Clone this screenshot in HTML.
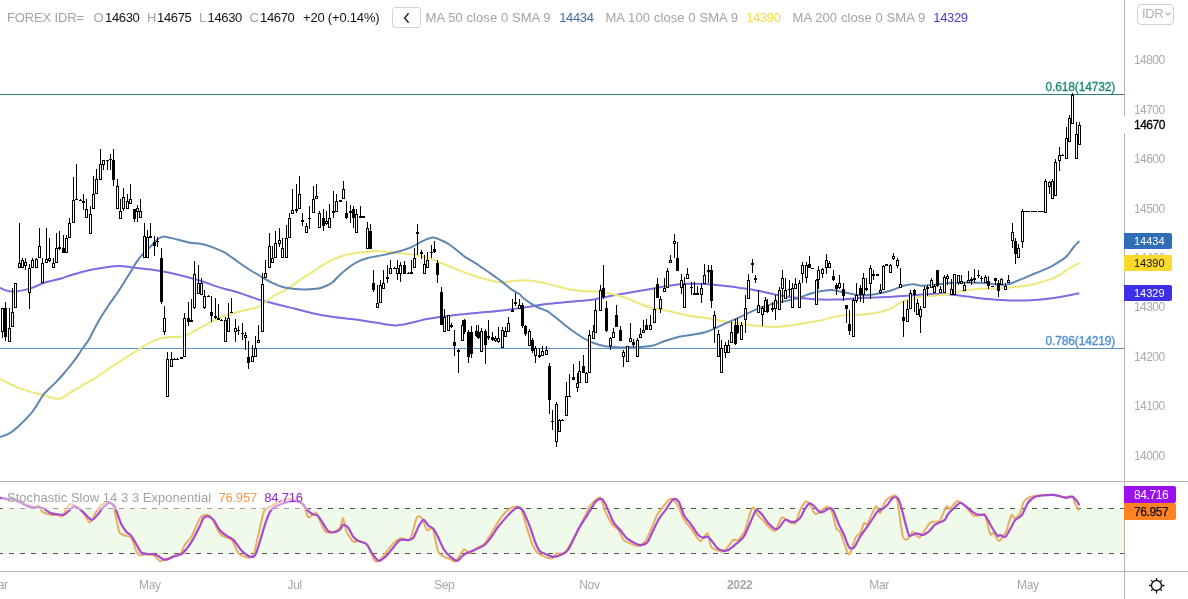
<!DOCTYPE html>
<html><head><meta charset="utf-8"><style>
html,body{margin:0;padding:0;background:#fff;}
body{width:1188px;height:599px;position:relative;overflow:hidden;font-family:"Liberation Sans",Arial,sans-serif;}
.lab{position:absolute;left:1124px;width:48px;height:16px;border-radius:0 2px 2px 0;font:11px "Liberation Sans",Arial,sans-serif;line-height:17px;text-indent:10px;letter-spacing:0px}
</style></head><body>

<svg width="1188" height="599" viewBox="0 0 1188 599" style="position:absolute;left:0;top:0">
<rect x="0" y="508" width="1124" height="46" fill="#f0faea"/>
<path d="M0,508.5H1124M0,553.5H1124" stroke="#555" stroke-width="1" stroke-dasharray="5 6" stroke-dashoffset="2" fill="none"/>
<path d="M0,94.5H1124" stroke="#2f7d78" stroke-width="1"/>
<path d="M0,348.5H1124" stroke="#5a95cf" stroke-width="1"/>
<path d="M0.0,288.0C2.0,288.6 7.0,291.5 12.0,291.6C17.0,291.7 24.5,290.1 30.0,288.6C35.5,287.1 40.0,284.1 45.0,282.5C50.0,280.9 55.8,280.0 60.0,278.8C64.2,277.6 65.4,276.9 70.0,275.5C74.6,274.1 81.9,271.7 87.7,270.4C93.5,269.1 99.8,268.2 105.0,267.5C110.2,266.8 114.3,266.0 119.0,266.0C123.7,266.0 127.7,266.9 133.0,267.5C138.3,268.1 145.1,268.8 151.0,269.6C156.9,270.4 162.6,271.3 168.4,272.5C174.2,273.7 180.4,275.2 186.0,276.7C191.6,278.1 197.1,279.8 201.7,281.2C206.3,282.6 209.5,284.1 213.4,285.4C217.3,286.7 221.1,287.9 225.0,289.0C228.9,290.1 232.8,290.8 236.7,292.0C240.6,293.2 244.5,294.7 248.4,296.0C252.3,297.3 256.1,298.8 260.0,300.0C263.9,301.2 267.9,302.0 271.8,303.0C275.7,304.0 279.6,305.0 283.5,306.0C287.4,307.0 291.1,307.8 295.0,308.8C298.9,309.8 302.9,310.8 306.8,311.8C310.7,312.8 314.6,313.8 318.5,314.6C322.4,315.4 326.3,315.9 330.2,316.5C334.1,317.1 338.0,317.6 341.9,318.1C345.8,318.6 349.7,318.8 353.6,319.3C357.5,319.8 361.3,320.4 365.2,321.0C369.1,321.6 373.1,322.2 377.0,322.8C380.9,323.4 385.5,324.3 388.6,324.7C391.7,325.1 392.9,325.5 395.6,325.4C398.3,325.3 401.5,324.8 405.0,324.2C408.5,323.6 412.7,322.4 416.6,321.5C420.5,320.6 422.2,319.8 428.3,318.8C434.4,317.8 445.3,316.3 453.4,315.3C461.5,314.3 468.9,313.8 476.7,313.0C484.5,312.2 492.2,311.6 500.0,310.7C507.8,309.8 515.7,308.7 523.5,307.6C531.3,306.5 539.0,305.0 546.8,304.0C554.6,303.0 562.4,302.6 570.2,301.8C578.0,301.0 585.8,300.6 593.6,299.4C601.4,298.2 609.2,296.2 617.0,294.8C624.8,293.4 632.5,292.2 640.3,290.8C648.1,289.4 656.7,287.8 663.6,286.6C670.5,285.5 676.7,284.4 681.7,283.9C686.7,283.4 689.5,283.7 693.4,283.7C697.3,283.7 701.1,283.8 705.0,284.0C708.9,284.2 712.8,284.5 716.7,284.9C720.6,285.3 724.5,285.8 728.4,286.3C732.3,286.8 736.1,287.4 740.0,287.9C743.9,288.4 747.9,288.8 751.8,289.5C755.7,290.2 759.6,291.1 763.5,291.9C767.4,292.7 771.1,293.7 775.0,294.5C778.9,295.3 782.9,295.9 786.8,296.5C790.7,297.1 794.6,297.6 798.5,298.0C802.4,298.4 806.3,298.6 810.2,298.9C814.1,299.2 818.0,299.5 821.9,299.6C825.8,299.7 829.7,299.7 833.6,299.6C837.5,299.5 841.3,299.3 845.2,299.1C849.1,298.9 853.1,298.4 857.0,298.2C860.9,298.0 864.7,297.9 868.6,297.7C872.5,297.5 876.4,297.3 880.3,297.2C884.2,297.1 888.1,297.0 892.0,296.8C895.9,296.6 899.5,296.4 903.6,296.1C907.7,295.8 911.8,295.4 916.8,295.0C921.8,294.6 928.1,294.1 933.7,294.0C939.3,293.9 944.9,294.0 950.5,294.4C956.1,294.8 961.7,295.9 967.3,296.6C972.9,297.3 978.6,298.2 984.2,298.8C989.8,299.4 995.4,299.7 1001.0,300.0C1006.6,300.3 1012.2,300.5 1017.8,300.5C1023.4,300.5 1029.1,300.4 1034.7,300.0C1040.3,299.6 1045.9,299.1 1051.5,298.3C1057.1,297.5 1063.8,296.2 1068.4,295.4C1073.0,294.5 1077.5,293.6 1079.3,293.2" stroke="#7b6de2" stroke-width="2" fill="none"/>
<path d="M0.0,378.6C1.5,379.4 6.0,382.0 9.0,383.5C12.0,385.0 14.5,386.2 18.0,387.6C21.5,389.0 25.8,390.3 30.0,391.6C34.2,392.9 40.1,394.4 43.4,395.4C46.7,396.4 47.8,396.8 50.0,397.4C52.2,397.9 54.7,398.6 56.7,398.7C58.7,398.8 59.8,399.0 62.0,398.0C64.2,397.0 67.1,394.5 70.0,392.7C72.9,390.9 76.9,388.9 79.4,387.4C81.9,385.9 82.1,385.4 85.0,383.7C87.9,382.0 92.8,379.6 96.7,377.2C100.6,374.8 104.5,371.6 108.4,369.0C112.3,366.4 116.1,364.0 120.0,361.5C123.9,359.0 127.8,356.4 131.7,353.9C135.6,351.4 139.5,348.6 143.4,346.3C147.3,344.1 151.1,341.9 155.0,340.4C158.9,338.9 162.9,337.9 166.8,337.3C170.7,336.7 175.0,337.4 178.5,337.0C182.0,336.6 184.9,335.8 187.8,334.6C190.7,333.4 193.1,331.6 196.0,330.0C198.9,328.4 202.1,326.9 205.0,325.3C207.9,323.7 210.1,322.1 213.4,320.5C216.7,318.9 221.1,317.2 225.0,315.8C228.9,314.4 232.8,313.4 236.7,312.3C240.6,311.2 244.5,310.4 248.4,309.3C252.3,308.2 255.8,308.2 260.0,306.0C264.2,303.8 268.9,298.8 273.4,296.0C277.8,293.2 282.3,292.1 286.7,289.4C291.1,286.7 295.6,283.0 300.0,280.0C304.4,277.0 308.9,274.3 313.4,271.4C317.9,268.5 322.4,265.1 326.8,262.7C331.2,260.2 335.6,258.2 340.0,256.7C344.4,255.1 349.3,254.2 353.5,253.4C357.7,252.6 361.3,252.4 365.2,252.0C369.1,251.6 373.1,251.0 377.0,251.0C380.9,251.0 384.7,251.6 388.6,252.0C392.5,252.4 396.4,252.8 400.3,253.2C404.2,253.6 408.1,254.0 412.0,254.6C415.9,255.2 420.6,256.3 423.6,257.0C426.6,257.7 427.0,257.6 430.0,258.6C433.0,259.6 437.8,261.6 441.7,263.2C445.6,264.8 449.5,266.4 453.4,268.0C457.3,269.6 461.1,271.2 465.0,272.6C468.9,274.0 472.8,275.3 476.7,276.5C480.6,277.7 484.5,279.1 488.4,280.0C492.3,280.9 496.1,282.0 500.0,282.2C503.9,282.4 507.9,281.5 511.8,281.2C515.7,280.9 519.6,280.3 523.5,280.3C527.4,280.3 531.1,280.6 535.0,281.2C538.9,281.8 542.9,282.7 546.8,283.6C550.7,284.5 554.6,285.6 558.5,286.6C562.4,287.6 566.3,288.9 570.2,289.6C574.1,290.4 578.0,290.8 581.9,291.1C585.8,291.4 589.7,291.2 593.6,291.4C597.5,291.6 601.3,291.8 605.2,292.4C609.1,293.0 613.1,294.1 617.0,295.2C620.9,296.3 624.7,297.5 628.6,299.0C632.5,300.5 636.4,302.5 640.3,304.0C644.2,305.5 648.1,307.0 652.0,308.0C655.9,309.0 660.6,309.4 663.6,310.0C666.6,310.6 667.0,310.6 670.0,311.3C673.0,312.0 677.8,313.4 681.7,314.3C685.6,315.2 689.5,316.0 693.4,316.6C697.3,317.2 701.1,317.2 705.0,317.8C708.9,318.4 712.8,319.2 716.7,319.9C720.6,320.6 724.5,321.6 728.4,322.2C732.3,322.8 736.1,323.1 740.0,323.6C743.9,324.1 747.9,324.8 751.8,325.3C755.7,325.8 759.6,326.1 763.5,326.4C767.4,326.7 771.1,327.0 775.0,326.9C778.9,326.8 782.9,326.5 786.8,326.0C790.7,325.5 794.6,324.7 798.5,324.1C802.4,323.5 806.3,322.9 810.2,322.2C814.1,321.5 818.0,321.0 821.9,320.1C825.8,319.2 829.7,318.0 833.6,317.1C837.5,316.2 841.3,315.4 845.2,315.0C849.1,314.6 853.1,315.0 857.0,314.8C860.9,314.6 864.7,314.5 868.6,314.0C872.5,313.5 876.4,313.0 880.3,312.0C884.2,311.0 888.7,309.3 892.0,307.8C895.3,306.3 895.9,304.7 900.0,303.0C904.1,301.3 911.2,298.6 916.8,297.4C922.4,296.2 928.1,296.4 933.7,295.8C939.3,295.2 946.3,294.7 950.5,294.0C954.7,293.3 956.2,292.2 959.0,291.5C961.8,290.8 963.1,290.4 967.3,289.9C971.5,289.4 978.6,289.0 984.2,288.7C989.8,288.4 995.4,288.5 1001.0,288.2C1006.6,287.9 1012.2,287.5 1017.8,286.8C1023.4,286.1 1029.1,285.3 1034.7,284.0C1040.3,282.7 1047.3,280.4 1051.5,278.9C1055.7,277.3 1057.2,276.4 1060.0,274.7C1062.8,273.0 1065.2,270.8 1068.4,268.8C1071.6,266.8 1077.5,263.9 1079.3,262.9" stroke="#eee77a" stroke-width="2" fill="none"/>
<path d="M0.0,437.0C1.5,436.4 6.0,435.3 9.0,433.6C12.0,431.9 14.5,429.9 18.0,426.7C21.5,423.5 26.9,418.2 30.0,414.7C33.1,411.1 34.5,408.7 36.7,405.4C38.9,402.1 41.2,397.6 43.4,394.7C45.6,391.8 47.8,390.2 50.0,388.0C52.2,385.8 54.5,383.7 56.7,381.4C58.9,379.1 61.2,376.6 63.4,374.0C65.6,371.4 67.8,368.8 70.0,366.0C72.2,363.2 74.6,360.3 76.7,357.4C78.8,354.5 80.5,351.4 82.5,348.5C84.5,345.6 86.8,343.1 88.7,340.0C90.6,336.9 91.8,333.7 93.8,330.0C95.8,326.3 98.2,321.8 100.7,317.6C103.2,313.4 106.0,309.2 108.8,305.0C111.6,300.8 114.8,296.6 117.6,292.5C120.4,288.4 123.2,283.8 125.4,280.3C127.6,276.8 129.0,274.6 130.8,271.6C132.6,268.6 134.5,265.1 136.3,262.4C138.1,259.7 139.7,257.6 141.7,255.4C143.7,253.2 146.4,250.7 148.2,248.9C150.0,247.1 150.9,246.2 152.5,244.5C154.1,242.8 156.2,240.3 158.0,239.0C159.8,237.7 161.6,236.7 163.4,236.4C165.2,236.2 166.0,236.9 168.8,237.5C171.6,238.1 176.5,239.3 180.0,240.2C183.5,241.1 186.4,242.1 190.0,242.7C193.6,243.3 197.8,243.2 201.7,244.0C205.6,244.8 209.5,246.2 213.4,247.6C217.3,249.0 221.1,250.5 225.0,252.7C228.9,254.9 232.8,258.3 236.7,261.0C240.6,263.7 244.5,266.5 248.4,269.0C252.3,271.5 256.1,273.7 260.0,276.0C263.9,278.3 267.9,280.7 271.8,282.6C275.7,284.5 279.6,286.2 283.5,287.3C287.4,288.4 291.1,288.6 295.0,289.0C298.9,289.4 302.9,289.5 306.8,289.4C310.7,289.3 315.6,288.9 318.5,288.5C321.4,288.1 321.8,287.7 324.0,286.7C326.2,285.7 329.3,284.7 332.0,282.7C334.7,280.7 336.9,277.5 340.0,274.7C343.1,271.9 347.5,268.3 350.8,266.0C354.1,263.7 357.1,262.0 360.0,260.7C362.9,259.4 365.2,258.8 368.0,258.0C370.8,257.2 373.6,256.9 377.0,256.2C380.4,255.5 384.7,254.8 388.6,253.9C392.5,253.0 396.4,252.2 400.3,251.0C404.2,249.8 408.1,248.6 412.0,246.9C415.9,245.2 420.1,242.2 423.6,240.6C427.1,239.0 430.0,237.5 433.0,237.5C436.0,237.5 439.3,239.5 441.7,240.5C444.1,241.5 445.6,242.2 447.5,243.4C449.4,244.6 451.4,246.0 453.4,247.5C455.3,249.0 457.3,250.6 459.2,252.2C461.1,253.8 463.1,255.5 465.0,256.9C466.9,258.3 468.9,259.2 470.9,260.4C472.8,261.6 474.8,262.6 476.7,263.9C478.6,265.2 480.7,266.6 482.6,268.0C484.6,269.4 486.4,270.6 488.4,272.0C490.3,273.4 492.4,274.7 494.3,276.1C496.2,277.5 498.1,278.7 500.0,280.2C501.9,281.7 504.0,283.4 506.0,285.0C508.0,286.6 509.5,288.0 511.8,289.6C514.1,291.2 518.0,293.1 520.0,294.5C522.0,295.9 521.0,296.4 523.5,298.3C526.0,300.2 531.1,303.9 535.0,306.0C538.9,308.1 544.3,309.8 546.8,311.0C549.3,312.2 547.5,311.1 550.0,313.0C552.5,314.9 557.9,319.4 561.8,322.5C565.7,325.6 569.5,328.8 573.4,331.5C577.3,334.2 581.6,337.1 585.0,339.0C588.4,340.9 590.2,341.8 593.6,343.0C597.0,344.2 601.3,345.5 605.2,346.2C609.1,346.9 613.1,347.1 617.0,347.3C620.9,347.5 624.7,347.4 628.6,347.3C632.5,347.2 636.4,347.2 640.3,346.9C644.2,346.6 648.1,346.6 652.0,345.7C655.9,344.8 660.1,342.7 663.6,341.5C667.1,340.3 670.0,339.4 673.0,338.5C676.0,337.6 678.3,336.9 681.7,336.3C685.1,335.7 689.5,335.3 693.4,334.6C697.3,333.9 701.1,333.5 705.0,332.3C708.9,331.1 712.8,329.3 716.7,327.6C720.6,325.9 724.5,323.9 728.4,322.2C732.3,320.4 736.1,318.9 740.0,317.1C743.9,315.3 747.9,313.1 751.8,311.3C755.7,309.6 759.6,308.0 763.5,306.6C767.4,305.2 771.1,304.1 775.0,303.1C778.9,302.1 782.9,301.6 786.8,300.7C790.7,299.8 794.6,299.2 798.5,298.0C802.4,296.8 806.3,294.9 810.2,293.7C814.1,292.5 818.0,291.6 821.9,291.0C825.8,290.4 829.7,289.9 833.6,290.2C837.5,290.5 841.3,291.8 845.2,292.6C849.1,293.4 853.1,294.5 857.0,294.9C860.9,295.3 864.7,295.2 868.6,294.9C872.5,294.6 876.4,294.1 880.3,293.3C884.2,292.5 888.1,291.4 892.0,290.2C895.9,288.9 900.0,286.8 903.6,285.8C907.2,284.8 910.5,284.3 913.5,284.3C916.5,284.3 918.5,285.6 921.9,285.7C925.3,285.8 928.9,285.2 933.7,284.8C938.5,284.4 944.9,283.5 950.5,283.1C956.1,282.7 961.7,282.6 967.3,282.6C972.9,282.6 978.6,282.7 984.2,283.1C989.8,283.5 996.8,284.7 1001.0,284.8C1005.2,284.9 1006.6,284.7 1009.4,284.0C1012.2,283.3 1015.0,281.7 1017.8,280.6C1020.6,279.5 1023.5,278.4 1026.3,277.2C1029.1,276.0 1031.9,274.7 1034.7,273.5C1037.5,272.3 1040.3,271.4 1043.1,270.2C1045.9,269.0 1048.7,267.8 1051.5,266.3C1054.3,264.8 1057.5,262.9 1060.0,261.2C1062.5,259.5 1064.5,258.5 1066.7,256.2C1068.9,253.9 1071.3,250.0 1073.4,247.5C1075.5,245.0 1078.3,242.1 1079.3,241.0" stroke="#5d86b2" stroke-width="2" fill="none"/>
<g shape-rendering="crispEdges"><path d="M2,308h1v30h-1zM1,308h3v24h-3zM5,302h1v39h-1zM4,308h3v29h-3zM9,308h1v34h-1zM8,328h3v14h-3zM12,288h1v39h-1zM11,312h3v15h-3zM15,283h1v25h-1zM14,283h3v25h-3zM19,223h1v45h-1zM18,263h3v5h-3zM22,258h1v10h-1zM21,260h3v8h-3zM25,258h1v12h-1zM24,262h3v4h-3zM29,264h1v45h-1zM28,268h3v25h-3zM32,258h1v10h-1zM31,260h3v8h-3zM36,258h1v10h-1zM35,259h3v9h-3zM39,228h1v30h-1zM38,246h3v12h-3zM42,258h1v25h-1zM41,263h3v20h-3zM46,228h1v35h-1zM45,259h3v4h-3zM49,238h1v24h-1zM48,258h3v3h-3zM53,258h1v10h-1zM52,263h3v5h-3zM56,233h1v30h-1zM55,248h3v15h-3zM59,231h1v19h-1zM58,247h3v2h-3zM63,235h1v18h-1zM62,248h3v5h-3zM66,235h1v18h-1zM65,238h3v15h-3zM69,218h1v20h-1zM68,223h3v15h-3zM73,177h1v46h-1zM72,200h3v23h-3zM76,164h1v36h-1zM75,199h3v1h-3zM80,199h1v2h-1zM79,200h3v1h-3zM83,194h1v16h-1zM82,201h3v2h-3zM86,199h1v19h-1zM85,209h3v9h-3zM90,206h1v28h-1zM89,214h3v20h-3zM93,176h1v33h-1zM92,194h3v15h-3zM96,169h1v25h-1zM95,179h3v15h-3zM100,149h1v31h-1zM99,164h3v16h-3zM103,160h1v10h-1zM102,160h3v5h-3zM107,160h1v10h-1zM106,160h3v1h-3zM110,154h1v16h-1zM109,159h3v1h-3zM113,149h1v37h-1zM112,160h3v20h-3zM117,179h1v30h-1zM116,186h3v23h-3zM120,199h1v20h-1zM119,211h3v8h-3zM123,188h1v23h-1zM122,197h3v12h-3zM127,194h1v15h-1zM126,201h3v8h-3zM130,184h1v20h-1zM129,199h3v5h-3zM134,209h1v13h-1zM133,209h3v10h-3zM137,205h1v17h-1zM136,208h3v4h-3zM140,199h1v19h-1zM139,211h3v7h-3zM144,223h1v35h-1zM143,236h3v22h-3zM147,230h1v28h-1zM146,237h3v21h-3zM150,223h1v15h-1zM149,236h3v2h-3zM154,236h1v20h-1zM153,242h3v4h-3zM157,237h1v10h-1zM156,241h3v1h-3zM161,248h1v56h-1zM160,258h3v44h-3zM164,306h1v29h-1zM163,318h3v14h-3zM167,352h1v45h-1zM166,359h3v38h-3zM171,352h1v15h-1zM170,359h3v8h-3zM174,358h1v2h-1zM173,359h3v1h-3zM177,358h1v2h-1zM176,359h3v1h-3zM181,357h1v2h-1zM180,357h3v2h-3zM184,313h1v44h-1zM183,318h3v39h-3zM188,302h1v24h-1zM187,318h3v4h-3zM191,299h1v23h-1zM190,320h3v2h-3zM194,261h1v48h-1zM193,274h3v34h-3zM198,265h1v29h-1zM197,283h3v11h-3zM201,278h1v17h-1zM200,283h3v12h-3zM204,290h1v19h-1zM203,296h3v12h-3zM208,295h1v2h-1zM207,296h3v1h-3zM211,296h1v26h-1zM210,312h3v4h-3zM215,298h1v21h-1zM214,316h3v2h-3zM218,304h1v16h-1zM217,318h3v2h-3zM221,319h1v2h-1zM220,320h3v1h-3zM225,317h1v25h-1zM224,320h3v22h-3zM228,303h1v29h-1zM227,318h3v14h-3zM231,298h1v15h-1zM230,312h3v1h-3zM235,319h1v23h-1zM234,328h3v4h-3zM238,326h1v9h-1zM237,330h3v1h-3zM242,323h1v17h-1zM241,333h3v1h-3zM245,332h1v18h-1zM244,335h3v3h-3zM248,341h1v28h-1zM247,357h3v6h-3zM252,345h1v17h-1zM251,356h3v6h-3zM255,336h1v21h-1zM254,348h3v9h-3zM258,325h1v18h-1zM257,340h3v3h-3zM262,273h1v59h-1zM261,284h3v48h-3zM265,260h1v18h-1zM264,273h3v5h-3zM269,233h1v35h-1zM268,246h3v22h-3zM272,246h1v17h-1zM271,258h3v5h-3zM275,231h1v27h-1zM274,243h3v15h-3zM279,228h1v19h-1zM278,240h3v4h-3zM282,238h1v20h-1zM281,248h3v10h-3zM286,225h1v33h-1zM285,238h3v20h-3zM289,213h1v25h-1zM288,218h3v20h-3zM292,189h1v25h-1zM291,210h3v4h-3zM296,184h1v29h-1zM295,209h3v2h-3zM299,176h1v33h-1zM298,194h3v15h-3zM302,213h1v13h-1zM301,220h3v2h-3zM306,223h1v10h-1zM305,226h3v7h-3zM309,206h1v23h-1zM308,218h3v1h-3zM313,186h1v27h-1zM312,199h3v14h-3zM316,184h1v15h-1zM315,196h3v3h-3zM319,211h1v17h-1zM318,213h3v15h-3zM323,209h1v22h-1zM322,218h3v8h-3zM326,211h1v14h-1zM325,221h3v3h-3zM329,204h1v24h-1zM328,218h3v10h-3zM333,191h1v27h-1zM332,211h3v2h-3zM336,194h1v18h-1zM335,201h3v11h-3zM340,200h1v2h-1zM339,200h3v2h-3zM343,181h1v18h-1zM342,189h3v10h-3zM346,201h1v18h-1zM345,213h3v5h-3zM350,205h1v18h-1zM349,211h3v2h-3zM353,206h1v22h-1zM352,209h3v9h-3zM356,209h1v24h-1zM355,214h3v19h-3zM360,206h1v12h-1zM359,216h3v2h-3zM363,216h1v2h-1zM362,216h3v2h-3zM367,222h1v27h-1zM366,228h3v21h-3zM370,224h1v25h-1zM369,231h3v18h-3zM373,270h1v22h-1zM372,283h3v7h-3zM377,285h1v23h-1zM376,303h3v5h-3zM380,280h1v23h-1zM379,285h3v18h-3zM383,270h1v19h-1zM382,283h3v6h-3zM387,265h1v18h-1zM386,277h3v2h-3zM390,260h1v14h-1zM389,268h3v6h-3zM394,267h1v2h-1zM393,268h3v1h-3zM397,260h1v20h-1zM396,268h3v6h-3zM400,262h1v20h-1zM399,265h3v9h-3zM404,261h1v13h-1zM403,265h3v9h-3zM408,272h1v2h-1zM407,273h3v1h-3zM411,260h1v14h-1zM410,272h3v2h-3zM414,248h1v20h-1zM413,258h3v10h-3zM417,224h1v31h-1zM416,232h3v2h-3zM421,250h1v9h-1zM420,252h3v2h-3zM424,255h1v19h-1zM423,264h3v10h-3zM427,252h1v16h-1zM426,260h3v8h-3zM431,245h1v13h-1zM430,252h3v1h-3zM434,241h1v12h-1zM433,249h3v3h-3zM437,260h1v23h-1zM436,263h3v12h-3zM441,287h1v38h-1zM440,292h3v33h-3zM444,309h1v23h-1zM443,317h3v15h-3zM448,315h1v16h-1zM447,315h3v16h-3zM451,323h1v5h-1zM450,325h3v2h-3zM454,330h1v26h-1zM453,342h3v4h-3zM458,349h1v24h-1zM457,350h3v2h-3zM462,320h1v21h-1zM461,325h3v16h-3zM464,319h1v15h-1zM463,320h3v12h-3zM468,330h1v33h-1zM467,332h3v25h-3zM471,326h1v32h-1zM470,332h3v22h-3zM476,325h1v12h-1zM475,331h3v5h-3zM478,325h1v14h-1zM477,332h3v6h-3zM481,328h1v24h-1zM480,331h3v21h-3zM485,329h1v35h-1zM484,331h3v14h-3zM488,320h1v20h-1zM487,336h3v2h-3zM492,332h1v9h-1zM491,337h3v3h-3zM495,336h1v6h-1zM494,338h3v3h-3zM498,327h1v16h-1zM497,338h3v4h-3zM502,327h1v21h-1zM501,330h3v18h-3zM505,327h1v10h-1zM504,331h3v6h-3zM508,317h1v15h-1zM507,323h3v9h-3zM512,299h1v13h-1zM511,310h3v2h-3zM515,293h1v13h-1zM514,302h3v2h-3zM519,299h1v10h-1zM518,305h3v4h-3zM522,303h1v25h-1zM521,305h3v21h-3zM525,325h1v11h-1zM524,326h3v8h-3zM529,329h1v17h-1zM528,331h3v15h-3zM532,338h1v15h-1zM531,340h3v11h-3zM535,346h1v17h-1zM534,348h3v8h-3zM539,348h1v10h-1zM538,355h3v2h-3zM542,346h1v10h-1zM541,351h3v5h-3zM546,346h1v9h-1zM545,350h3v5h-3zM549,363h1v51h-1zM548,366h3v34h-3zM552,410h1v20h-1zM551,421h3v1h-3zM556,402h1v45h-1zM555,404h3v38h-3zM559,419h1v13h-1zM558,420h3v12h-3zM562,419h1v2h-1zM561,420h3v1h-3zM566,382h1v34h-1zM565,396h3v20h-3zM569,374h1v23h-1zM568,396h3v1h-3zM573,364h1v16h-1zM572,377h3v3h-3zM577,373h1v19h-1zM576,383h3v5h-3zM579,361h1v22h-1zM578,371h3v12h-3zM583,355h1v18h-1zM582,366h3v7h-3zM586,372h1v11h-1zM585,373h3v10h-3zM589,330h1v43h-1zM588,335h3v38h-3zM593,325h1v14h-1zM592,331h3v8h-3zM595,300h1v33h-1zM594,310h3v23h-3zM600,285h1v26h-1zM599,290h3v21h-3zM603,265h1v34h-1zM602,288h3v9h-3zM606,301h1v31h-1zM605,308h3v23h-3zM610,337h1v13h-1zM609,338h3v8h-3zM613,328h1v10h-1zM612,332h3v6h-3zM616,305h1v22h-1zM615,315h3v12h-3zM620,326h1v15h-1zM619,330h3v11h-3zM623,350h1v17h-1zM622,352h3v5h-3zM627,346h1v16h-1zM626,346h3v16h-3zM630,323h1v19h-1zM629,338h3v4h-3zM633,339h1v8h-1zM632,342h3v3h-3zM637,338h1v19h-1zM636,340h3v17h-3zM640,328h1v10h-1zM639,334h3v4h-3zM643,320h1v13h-1zM642,330h3v3h-3zM646,319h1v11h-1zM645,325h3v5h-3zM650,315h1v15h-1zM649,325h3v5h-3zM654,288h1v35h-1zM653,309h3v14h-3zM657,278h1v20h-1zM656,284h3v14h-3zM660,296h1v17h-1zM659,299h3v10h-3zM664,278h1v14h-1zM663,288h3v4h-3zM667,268h1v20h-1zM666,271h3v17h-3zM670,255h1v8h-1zM669,260h3v3h-3zM674,234h1v24h-1zM673,241h3v3h-3zM677,242h1v29h-1zM676,258h3v13h-3zM681,274h1v20h-1zM680,280h3v8h-3zM684,277h1v31h-1zM683,284h3v24h-3zM687,268h1v11h-1zM686,274h3v5h-3zM691,282h1v13h-1zM690,287h3v1h-3zM694,282h1v13h-1zM693,293h3v2h-3zM697,286h1v9h-1zM696,293h3v2h-3zM701,283h1v20h-1zM700,288h3v7h-3zM704,264h1v20h-1zM703,275h3v9h-3zM708,265h1v18h-1zM707,270h3v2h-3zM711,265h1v43h-1zM710,270h3v31h-3zM714,311h1v32h-1zM713,315h3v13h-3zM718,330h1v27h-1zM717,334h3v23h-3zM721,340h1v33h-1zM720,348h3v25h-3zM725,342h1v16h-1zM724,345h3v8h-3zM728,340h1v13h-1zM727,345h3v8h-3zM731,322h1v21h-1zM730,332h3v11h-3zM735,319h1v26h-1zM734,325h3v19h-3zM737,318h1v16h-1zM736,325h3v8h-3zM741,322h1v18h-1zM740,325h3v15h-3zM745,295h1v38h-1zM744,308h3v12h-3zM748,274h1v25h-1zM747,280h3v19h-3zM752,259h1v14h-1zM751,263h3v2h-3zM755,275h1v8h-1zM754,278h3v2h-3zM758,290h1v23h-1zM757,305h3v8h-3zM762,306h1v20h-1zM761,308h3v7h-3zM765,297h1v15h-1zM764,300h3v12h-3zM767,299h1v14h-1zM766,305h3v7h-3zM772,302h1v10h-1zM771,308h3v2h-3zM775,295h1v25h-1zM774,300h3v9h-3zM779,287h1v23h-1zM778,290h3v20h-3zM782,270h1v33h-1zM781,278h3v11h-3zM785,278h1v21h-1zM784,290h3v9h-3zM789,280h1v16h-1zM788,289h3v1h-3zM792,283h1v25h-1zM791,288h3v20h-3zM795,278h1v11h-1zM794,284h3v5h-3zM799,280h1v28h-1zM798,283h3v25h-3zM802,262h1v21h-1zM801,265h3v9h-3zM806,262h1v21h-1zM805,265h3v13h-3zM809,256h1v12h-1zM808,264h3v4h-3zM812,268h1v1h-1zM811,268h3v1h-3zM816,279h1v26h-1zM815,280h3v25h-3zM818,266h1v23h-1zM817,270h3v10h-3zM822,268h1v10h-1zM821,269h3v5h-3zM826,254h1v20h-1zM825,260h3v8h-3zM829,261h1v7h-1zM828,263h3v5h-3zM833,270h1v11h-1zM832,276h3v4h-3zM836,283h1v12h-1zM835,285h3v4h-3zM839,275h1v14h-1zM838,283h3v5h-3zM843,283h1v18h-1zM842,289h3v7h-3zM846,305h1v18h-1zM845,305h3v4h-3zM849,310h1v25h-1zM848,324h3v7h-3zM853,298h1v39h-1zM852,300h3v37h-3zM856,283h1v20h-1zM855,295h3v6h-3zM860,285h1v17h-1zM859,288h3v7h-3zM863,273h1v30h-1zM862,278h3v17h-3zM866,278h1v13h-1zM865,288h3v2h-3zM870,265h1v34h-1zM869,268h3v16h-3zM873,270h1v10h-1zM872,274h3v2h-3zM877,274h1v2h-1zM876,274h3v2h-3zM880,284h1v10h-1zM879,290h3v3h-3zM883,265h1v25h-1zM882,266h3v24h-3zM886,264h1v2h-1zM885,264h3v2h-3zM890,264h1v9h-1zM889,265h3v8h-3zM893,253h1v7h-1zM892,256h3v3h-3zM897,258h1v10h-1zM896,260h3v6h-3zM900,268h1v20h-1zM899,284h3v4h-3zM903,301h1v36h-1zM902,317h3v4h-3zM907,300h1v22h-1zM906,309h3v13h-3zM910,290h1v19h-1zM909,293h3v16h-3zM914,289h1v23h-1zM913,290h3v5h-3zM917,299h1v16h-1zM916,303h3v12h-3zM920,306h1v27h-1zM919,309h3v8h-3zM924,286h1v22h-1zM923,289h3v19h-3zM927,285h1v11h-1zM926,287h3v2h-3zM931,278h1v10h-1zM930,280h3v8h-3zM934,284h1v9h-1zM933,286h3v7h-3zM937,270h1v17h-1zM936,270h3v16h-3zM940,286h1v7h-1zM939,289h3v4h-3zM944,275h1v18h-1zM943,277h3v16h-3zM947,274h1v11h-1zM946,276h3v3h-3zM951,279h1v16h-1zM950,289h3v6h-3zM954,274h1v21h-1zM953,274h3v21h-3zM958,275h1v10h-1zM957,275h3v8h-3zM961,275h1v9h-1zM960,281h3v3h-3zM964,282h1v9h-1zM963,285h3v6h-3zM968,271h1v12h-1zM967,280h3v3h-3zM971,277h1v8h-1zM970,279h3v2h-3zM974,269h1v14h-1zM973,278h3v2h-3zM978,270h1v8h-1zM977,275h3v1h-3zM981,276h1v6h-1zM980,278h3v1h-3zM985,275h1v8h-1zM984,277h3v6h-3zM988,276h1v13h-1zM987,281h3v5h-3zM992,286h1v1h-1zM991,286h3v1h-3zM995,278h1v7h-1zM994,278h3v3h-3zM998,280h1v17h-1zM997,283h3v8h-3zM1001,278h1v7h-1zM1000,279h3v6h-3zM1005,283h1v7h-1zM1004,286h3v4h-3zM1008,275h1v8h-1zM1007,280h3v3h-3zM1012,223h1v25h-1zM1011,232h3v9h-3zM1015,238h1v26h-1zM1014,241h3v13h-3zM1018,244h1v14h-1zM1017,248h3v10h-3zM1022,209h1v39h-1zM1021,211h3v31h-3zM1045,179h1v34h-1zM1044,181h3v32h-3zM1049,181h1v13h-1zM1048,182h3v5h-3zM1052,179h1v20h-1zM1051,181h3v18h-3zM1055,159h1v37h-1zM1054,162h3v34h-3zM1059,147h1v24h-1zM1058,155h3v6h-3zM1062,154h1v2h-1zM1061,155h3v1h-3zM1066,127h1v32h-1zM1065,138h3v21h-3zM1069,115h1v27h-1zM1068,118h3v24h-3zM1072,93h1v31h-1zM1071,95h3v29h-3zM1076,122h1v37h-1zM1075,134h3v25h-3zM1079,122h1v23h-1zM1078,125h3v20h-3zM1024,211h6v1h-6zM1031,211h6v1h-6zM1038,211h6v1h-6z" fill="#000"/>
<path d="M2,309h1v22h-1zM9,329h1v12h-1zM12,313h1v13h-1zM15,284h1v23h-1zM19,264h1v3h-1zM22,261h1v6h-1zM25,263h1v2h-1zM29,269h1v23h-1zM32,261h1v6h-1zM36,260h1v7h-1zM39,247h1v10h-1zM42,264h1v18h-1zM46,260h1v2h-1zM49,259h1v1h-1zM53,264h1v3h-1zM56,249h1v13h-1zM66,239h1v13h-1zM69,224h1v13h-1zM73,201h1v21h-1zM86,210h1v7h-1zM90,215h1v18h-1zM93,195h1v13h-1zM96,180h1v13h-1zM100,165h1v14h-1zM103,161h1v3h-1zM117,187h1v21h-1zM120,212h1v6h-1zM123,198h1v10h-1zM127,202h1v6h-1zM130,200h1v3h-1zM137,209h1v2h-1zM140,212h1v5h-1zM144,237h1v20h-1zM147,238h1v19h-1zM164,319h1v12h-1zM167,360h1v36h-1zM171,360h1v6h-1zM184,319h1v37h-1zM194,275h1v32h-1zM198,284h1v9h-1zM201,284h1v10h-1zM204,297h1v10h-1zM225,321h1v20h-1zM228,319h1v12h-1zM235,329h1v2h-1zM245,336h1v1h-1zM252,357h1v4h-1zM255,349h1v7h-1zM258,341h1v1h-1zM262,285h1v46h-1zM265,274h1v3h-1zM269,247h1v20h-1zM272,259h1v3h-1zM275,244h1v13h-1zM279,241h1v2h-1zM282,249h1v8h-1zM286,239h1v18h-1zM289,219h1v18h-1zM292,211h1v2h-1zM299,195h1v13h-1zM306,227h1v5h-1zM313,200h1v12h-1zM316,197h1v1h-1zM319,214h1v13h-1zM326,222h1v1h-1zM329,219h1v8h-1zM336,202h1v9h-1zM343,190h1v8h-1zM356,215h1v17h-1zM367,229h1v19h-1zM377,304h1v3h-1zM380,286h1v16h-1zM383,284h1v4h-1zM390,269h1v4h-1zM397,269h1v4h-1zM400,266h1v7h-1zM414,259h1v8h-1zM424,265h1v8h-1zM427,261h1v6h-1zM444,318h1v13h-1zM448,316h1v14h-1zM462,326h1v14h-1zM481,332h1v19h-1zM495,339h1v1h-1zM498,339h1v2h-1zM502,331h1v16h-1zM505,332h1v4h-1zM508,324h1v7h-1zM519,306h1v2h-1zM529,332h1v13h-1zM535,349h1v6h-1zM542,352h1v3h-1zM546,351h1v3h-1zM556,405h1v36h-1zM559,421h1v10h-1zM566,397h1v18h-1zM577,384h1v3h-1zM579,372h1v10h-1zM586,374h1v8h-1zM589,336h1v36h-1zM593,332h1v6h-1zM595,311h1v21h-1zM600,291h1v19h-1zM610,339h1v6h-1zM613,333h1v4h-1zM623,353h1v3h-1zM627,347h1v14h-1zM630,339h1v2h-1zM637,341h1v15h-1zM640,335h1v2h-1zM643,331h1v1h-1zM650,326h1v3h-1zM654,310h1v12h-1zM660,300h1v8h-1zM664,289h1v2h-1zM667,272h1v15h-1zM670,261h1v1h-1zM674,242h1v1h-1zM681,281h1v6h-1zM684,285h1v22h-1zM687,275h1v3h-1zM701,289h1v5h-1zM704,276h1v7h-1zM714,316h1v11h-1zM718,335h1v21h-1zM721,349h1v23h-1zM725,346h1v6h-1zM728,346h1v6h-1zM731,333h1v9h-1zM741,326h1v13h-1zM745,309h1v10h-1zM748,281h1v17h-1zM758,306h1v6h-1zM762,309h1v5h-1zM765,301h1v10h-1zM775,301h1v7h-1zM779,291h1v18h-1zM782,279h1v9h-1zM785,291h1v7h-1zM792,289h1v18h-1zM795,285h1v3h-1zM799,284h1v23h-1zM802,266h1v7h-1zM806,266h1v11h-1zM816,281h1v23h-1zM818,271h1v8h-1zM822,270h1v3h-1zM826,261h1v6h-1zM829,264h1v3h-1zM839,284h1v3h-1zM853,301h1v35h-1zM856,296h1v4h-1zM863,279h1v15h-1zM870,269h1v14h-1zM880,291h1v1h-1zM883,267h1v22h-1zM890,266h1v6h-1zM893,257h1v1h-1zM897,261h1v4h-1zM900,285h1v2h-1zM907,310h1v11h-1zM910,294h1v14h-1zM917,304h1v10h-1zM920,310h1v6h-1zM924,290h1v17h-1zM931,281h1v6h-1zM934,287h1v5h-1zM940,290h1v2h-1zM944,278h1v14h-1zM947,277h1v1h-1zM951,290h1v4h-1zM954,275h1v19h-1zM958,276h1v6h-1zM961,282h1v1h-1zM964,286h1v4h-1zM968,281h1v1h-1zM985,278h1v4h-1zM1001,280h1v4h-1zM1005,287h1v2h-1zM1008,281h1v1h-1zM1012,233h1v7h-1zM1018,249h1v8h-1zM1022,212h1v29h-1zM1045,182h1v30h-1zM1049,183h1v3h-1zM1052,182h1v16h-1zM1055,163h1v32h-1zM1059,156h1v4h-1zM1066,139h1v19h-1zM1069,119h1v22h-1zM1072,96h1v27h-1zM1076,135h1v23h-1zM1079,126h1v18h-1z" fill="#fff"/></g>
<path d="M0.0,497.2C0.8,497.5 5.1,499.5 6.7,499.7C8.3,499.9 11.9,498.6 13.5,498.8C15.1,499.0 18.6,500.5 20.2,501.4C21.8,502.3 25.4,505.7 27.0,506.4C28.6,507.1 32.3,507.4 33.7,507.3C35.1,507.2 37.7,505.1 38.7,505.6C39.7,506.1 40.6,510.4 42.0,511.5C43.4,512.6 48.7,514.4 50.5,514.8C52.3,515.2 55.8,514.6 57.2,514.8C58.6,515.0 61.1,517.4 62.3,516.5C63.5,515.6 66.3,508.8 67.3,507.3C68.3,505.8 69.5,503.9 70.7,503.9C71.9,503.9 75.8,506.1 77.4,507.3C79.0,508.5 82.7,512.2 84.2,514.0C85.7,515.8 88.6,522.6 90.0,522.4C91.4,522.2 94.7,514.3 96.0,512.3C97.3,510.3 99.6,506.8 101.0,505.6C102.4,504.4 106.3,502.2 107.7,502.2C109.1,502.2 111.8,503.7 112.8,505.6C113.8,507.5 115.4,515.1 116.2,518.2C117.0,521.3 118.3,530.4 119.5,532.5C120.7,534.6 124.9,535.3 126.3,535.9C127.7,536.5 130.1,535.8 131.3,537.6C132.5,539.4 135.4,548.9 136.4,551.0C137.4,553.1 138.5,554.8 139.7,555.2C140.9,555.6 144.9,554.4 146.5,554.4C148.1,554.4 151.6,554.4 153.2,555.2C154.8,556.0 158.6,560.6 160.0,561.1C161.4,561.6 163.4,560.0 165.0,559.4C166.6,558.8 171.7,556.6 173.4,556.0C175.2,555.4 178.6,555.8 180.0,554.4C181.4,553.0 183.8,546.5 185.2,544.3C186.6,542.1 190.2,538.9 191.9,535.9C193.6,532.9 198.3,520.7 200.0,518.2C201.7,515.7 205.3,514.8 206.7,514.8C208.1,514.8 210.2,515.9 211.8,518.2C213.4,520.5 218.4,531.9 220.2,534.2C222.0,536.5 225.5,536.9 226.9,537.6C228.3,538.3 230.6,538.2 232.0,540.1C233.4,542.0 236.7,551.4 238.7,553.5C240.7,555.6 247.0,557.8 248.8,557.8C250.6,557.8 252.7,556.5 253.9,553.5C255.1,550.5 257.7,537.4 258.9,532.5C260.1,527.6 262.6,514.5 264.0,511.5C265.4,508.5 268.7,507.6 270.7,506.4C272.7,505.2 278.4,502.3 280.8,501.4C283.2,500.5 288.7,498.7 290.9,498.8C293.1,498.9 297.7,501.2 299.3,502.2C300.9,503.2 303.3,505.5 304.4,507.3C305.5,509.1 307.2,516.7 308.6,517.4C310.0,518.1 314.3,511.5 316.2,513.1C318.1,514.7 322.8,528.5 324.6,530.8C326.4,533.1 329.5,532.8 331.3,532.5C333.1,532.2 338.3,530.0 339.7,528.3C341.1,526.6 342.3,517.8 343.1,518.2C343.9,518.6 345.3,528.9 346.5,531.7C347.7,534.5 351.8,540.7 353.2,541.8C354.6,542.9 356.6,540.6 358.2,540.9C359.8,541.2 364.7,541.9 366.7,544.3C368.7,546.7 373.3,559.5 375.1,561.1C376.9,562.7 380.0,559.5 381.8,557.8C383.6,556.1 388.1,549.1 390.2,546.8C392.3,544.5 397.7,539.3 400.0,538.4C402.3,537.5 408.1,541.7 410.1,539.2C412.1,536.8 415.4,519.9 416.8,517.4C418.2,514.9 420.7,516.7 421.9,518.2C423.1,519.7 425.6,528.7 426.9,530.0C428.2,531.3 431.4,526.5 432.8,529.1C434.2,531.7 436.6,549.2 438.7,552.7C440.8,556.2 448.5,558.4 450.5,559.4C452.5,560.4 454.0,562.3 455.6,561.1C457.2,559.9 462.4,550.2 464.0,549.3C465.6,548.4 467.4,553.7 469.0,553.5C470.6,553.3 475.6,548.8 477.4,547.7C479.2,546.6 482.6,545.9 484.2,544.3C485.8,542.7 488.9,537.3 490.9,534.2C492.9,531.1 498.8,520.4 501.0,517.4C503.2,514.4 507.6,510.2 509.4,508.9C511.2,507.6 514.8,506.4 516.2,506.4C517.6,506.4 520.0,506.6 521.2,508.9C522.4,511.2 524.9,521.5 526.3,525.8C527.7,530.1 531.4,542.7 533.0,546.0C534.6,549.3 537.5,552.9 539.7,554.4C541.9,555.9 549.5,558.7 551.5,558.6C553.5,558.5 555.0,554.2 556.6,553.5C558.2,552.8 562.6,555.2 565.0,552.7C567.4,550.2 574.4,536.8 576.8,532.5C579.2,528.2 583.6,518.8 585.2,515.7C586.8,512.6 588.5,507.7 590.2,505.6C591.9,503.5 598.3,496.9 600.0,497.5C601.7,498.1 603.6,507.5 605.0,510.6C606.4,513.7 610.2,521.8 611.8,524.1C613.4,526.4 617.1,528.1 618.5,530.0C619.9,531.9 622.2,538.5 623.6,540.1C625.0,541.7 628.5,542.7 630.3,543.4C632.1,544.1 636.9,546.3 638.7,546.0C640.5,545.7 644.1,542.7 645.5,540.9C646.9,539.1 649.1,533.8 650.5,530.8C651.9,527.8 655.6,517.7 657.2,514.8C658.8,511.9 662.4,507.5 664.0,505.6C665.6,503.7 669.1,498.9 670.7,498.8C672.3,498.7 675.8,502.2 677.4,504.7C679.0,507.2 682.6,517.1 684.2,519.9C685.8,522.7 689.3,526.1 690.9,528.3C692.5,530.5 696.4,536.9 697.6,538.4C698.8,539.9 699.8,541.5 701.0,540.9C702.2,540.3 706.5,532.6 707.7,533.3C708.9,534.0 709.7,544.7 711.1,546.8C712.5,548.9 717.9,550.5 719.5,551.0C721.1,551.5 723.0,552.3 724.6,551.0C726.2,549.7 731.4,541.4 733.0,540.1C734.6,538.8 736.6,541.2 738.0,540.1C739.4,539.0 743.4,533.8 744.8,530.8C746.2,527.8 748.8,516.7 749.8,514.0C750.8,511.3 752.2,507.1 753.2,507.3C754.2,507.5 757.0,514.1 758.2,515.7C759.4,517.3 762.1,519.4 763.3,520.7C764.5,522.0 767.0,525.4 768.4,526.6C769.8,527.8 773.5,531.9 775.1,530.8C776.7,529.7 780.2,518.5 781.8,517.4C783.4,516.3 787.0,520.9 788.6,521.6C790.2,522.3 794.0,524.5 795.3,523.2C796.6,521.9 798.8,513.1 800.0,510.6C801.2,508.1 804.7,502.1 805.9,501.4C807.1,500.7 809.0,503.2 810.1,504.7C811.2,506.2 814.0,513.2 815.2,514.0C816.4,514.8 818.8,512.4 820.2,511.5C821.6,510.6 825.5,506.4 826.9,506.4C828.3,506.4 830.9,508.9 832.0,511.5C833.1,514.1 835.2,525.8 836.2,528.3C837.2,530.8 838.9,529.5 840.4,532.5C841.9,535.5 847.0,553.8 848.8,554.4C850.6,555.0 854.2,540.2 855.6,537.6C857.0,535.0 859.6,534.2 860.6,532.5C861.6,530.8 863.2,524.2 864.0,523.2C864.8,522.2 865.9,526.1 867.3,524.1C868.7,522.1 874.3,507.7 875.8,506.4C877.3,505.1 878.8,513.8 880.0,513.1C881.2,512.4 884.4,502.5 885.9,500.5C887.4,498.5 891.3,496.6 892.6,496.3C893.9,496.0 895.6,493.4 896.8,498.0C898.0,502.6 901.4,531.1 902.7,535.9C904.0,540.7 906.5,539.7 907.7,539.2C908.9,538.7 911.4,531.9 912.8,531.7C914.2,531.5 917.5,538.6 919.5,537.6C921.5,536.6 927.8,525.1 929.6,523.2C931.4,521.3 933.5,521.9 934.7,521.6C935.9,521.3 938.3,522.5 939.7,520.7C941.1,518.9 945.3,507.8 946.5,506.4C947.7,505.0 948.6,509.5 949.8,508.9C951.0,508.3 955.2,502.1 956.6,501.4C958.0,500.7 960.2,502.0 961.6,503.0C963.0,504.0 967.0,508.3 968.4,509.8C969.8,511.3 971.8,515.1 973.4,515.7C975.0,516.3 980.4,514.9 981.8,514.8C983.2,514.7 984.2,512.5 985.2,514.8C986.2,517.1 989.2,532.1 990.2,534.2C991.2,536.3 992.6,531.7 993.6,532.5C994.6,533.3 997.3,541.0 998.7,540.9C1000.1,540.8 1004.5,534.6 1006.0,531.6C1007.5,528.6 1010.3,516.7 1011.3,515.1C1012.3,513.5 1013.3,518.2 1014.3,518.1C1015.3,518.0 1018.4,516.2 1019.5,514.3C1020.6,512.4 1022.8,503.5 1024.0,501.5C1025.2,499.5 1028.2,497.7 1030.0,497.0C1031.8,496.3 1036.5,495.8 1039.1,495.5C1041.7,495.2 1049.8,494.6 1052.6,494.8C1055.4,495.0 1060.9,496.8 1063.2,497.0C1065.5,497.2 1070.8,495.8 1072.2,496.6C1073.6,497.4 1074.4,502.2 1075.2,503.8C1076.0,505.4 1078.6,509.8 1079.0,510.6" stroke="#e9ae62" stroke-width="2" fill="none" stroke-linejoin="round"/>
<path d="M0.0,498.0C0.9,498.1 4.9,498.6 6.7,498.8C8.5,499.0 11.7,499.2 13.5,499.7C15.3,500.2 18.4,501.4 20.2,502.2C22.0,503.0 25.2,504.9 27.0,505.6C28.8,506.3 31.9,507.1 33.7,507.3C35.5,507.5 38.8,507.0 40.4,507.3C42.0,507.6 44.2,509.0 45.5,509.8C46.8,510.6 48.9,512.5 50.5,513.1C52.1,513.7 55.4,514.1 57.2,514.3C59.0,514.5 62.4,515.3 64.0,514.8C65.6,514.3 67.7,511.7 69.0,510.6C70.3,509.5 72.7,506.7 74.0,506.4C75.3,506.1 77.7,507.7 79.1,508.6C80.5,509.5 82.5,511.6 84.2,513.1C85.9,514.6 90.0,519.7 91.8,519.9C93.6,520.1 96.1,516.4 97.6,514.8C99.1,513.2 101.1,509.6 102.7,508.0C104.3,506.4 107.8,503.2 109.4,503.0C111.0,502.8 113.4,504.8 114.5,506.4C115.6,508.0 116.9,512.5 117.8,514.8C118.7,517.1 120.1,521.7 121.2,524.0C122.3,526.3 125.0,530.1 126.3,531.7C127.6,533.3 130.0,534.2 131.3,535.9C132.6,537.6 135.1,542.1 136.4,544.3C137.7,546.5 139.8,551.4 141.4,552.7C143.0,554.0 146.5,553.8 148.1,554.0C149.7,554.2 151.9,553.7 153.2,554.0C154.5,554.3 156.9,555.3 158.2,556.0C159.5,556.7 161.9,559.0 163.3,559.4C164.7,559.8 166.8,559.6 168.4,559.1C170.0,558.6 173.4,556.6 175.1,556.0C176.8,555.4 179.4,555.4 181.0,554.4C182.6,553.4 185.2,550.6 186.9,548.5C188.6,546.4 191.9,541.4 193.6,538.4C195.3,535.4 198.7,528.5 200.0,525.8C201.3,523.1 202.3,519.4 203.4,518.2C204.5,517.0 207.1,516.3 208.4,516.5C209.7,516.7 211.9,518.0 213.5,519.9C215.1,521.8 218.4,528.7 220.2,530.8C222.0,532.9 225.1,534.7 226.9,535.9C228.7,537.1 231.9,538.3 233.7,540.1C235.5,541.9 238.6,547.3 240.4,549.3C242.2,551.3 245.5,554.2 247.1,555.2C248.7,556.2 251.1,557.0 252.2,556.9C253.3,556.8 254.5,556.8 255.6,554.4C256.7,552.0 259.3,543.5 260.6,539.2C261.9,534.9 264.4,526.2 265.7,522.4C267.0,518.6 269.4,512.7 270.7,510.6C272.0,508.5 274.0,507.4 275.8,506.4C277.6,505.4 282.0,503.7 284.2,503.0C286.4,502.3 290.8,501.1 292.6,500.9C294.4,500.7 296.3,501.0 297.6,501.4C298.9,501.8 301.4,502.7 302.7,503.9C304.0,505.1 306.4,509.2 307.7,510.6C309.0,512.0 311.5,513.6 312.8,514.3C314.1,515.0 316.5,514.5 317.8,515.7C319.1,516.9 321.6,521.2 322.9,523.2C324.2,525.2 326.6,529.6 327.9,530.8C329.2,532.0 331.4,532.6 333.0,532.5C334.6,532.4 338.4,531.0 339.7,530.0C341.0,529.0 342.0,525.2 343.1,524.9C344.2,524.6 346.8,525.9 348.1,527.5C349.4,529.1 351.9,534.9 353.2,536.7C354.5,538.5 356.4,539.9 358.2,540.9C360.0,541.9 364.9,542.7 366.7,544.3C368.5,545.9 370.1,550.5 371.7,552.7C373.3,554.9 376.7,560.2 378.5,560.8C380.3,561.4 383.4,558.4 385.2,556.9C387.0,555.4 389.9,551.5 391.9,549.3C393.9,547.1 397.8,541.3 400.0,540.1C402.2,538.9 406.6,540.4 408.4,540.1C410.2,539.8 412.2,539.4 413.5,537.6C414.8,535.8 417.2,529.0 418.5,526.6C419.8,524.2 422.3,520.0 423.6,519.9C424.9,519.8 427.3,524.6 428.6,525.8C429.9,527.0 432.4,527.4 433.7,529.1C435.0,530.8 437.4,535.7 438.7,538.4C440.0,541.1 442.2,546.8 443.8,549.3C445.4,551.8 448.7,555.4 450.5,556.9C452.3,558.4 455.6,560.9 457.2,560.8C458.8,560.7 461.0,557.1 462.3,556.0C463.6,554.9 465.7,553.5 467.3,552.7C468.9,551.9 471.7,551.2 474.0,550.2C476.3,549.2 481.9,546.8 484.2,545.1C486.5,543.4 489.1,539.9 490.9,537.6C492.7,535.3 495.6,530.2 497.6,527.5C499.6,524.8 504.1,519.7 506.1,517.4C508.1,515.1 511.2,511.9 512.8,510.6C514.4,509.3 516.5,507.3 517.8,507.3C519.1,507.3 521.3,508.1 522.9,510.6C524.5,513.1 528.0,521.8 529.6,525.8C531.2,529.8 533.4,537.5 534.7,540.9C536.0,544.3 538.1,549.2 539.7,551.0C541.3,552.8 544.7,553.6 546.5,554.4C548.3,555.2 551.2,556.9 553.2,556.9C555.2,556.9 559.6,555.4 561.6,554.4C563.6,553.4 566.1,552.7 568.4,549.3C570.7,545.9 576.0,533.6 578.5,529.1C581.0,524.6 584.7,519.3 586.9,515.7C589.1,512.1 593.6,504.5 595.3,502.2C597.0,499.9 598.9,499.0 600.0,498.8C601.1,498.6 602.3,498.9 603.4,500.5C604.5,502.1 607.1,507.7 608.4,510.6C609.7,513.5 611.9,519.8 613.5,522.4C615.1,525.0 618.4,527.9 620.2,530.0C622.0,532.1 625.1,536.7 626.9,538.4C628.7,540.1 631.9,541.7 633.7,542.6C635.5,543.5 638.6,545.1 640.4,545.1C642.2,545.1 645.5,544.3 647.1,542.6C648.7,540.9 650.6,535.6 652.2,532.5C653.8,529.4 657.1,522.0 658.9,519.0C660.7,516.0 664.1,512.0 665.7,509.8C667.3,507.6 669.6,503.7 670.7,502.2C671.8,500.7 673.0,498.8 674.1,498.8C675.2,498.8 677.8,499.9 679.1,502.2C680.4,504.5 682.6,512.8 684.2,515.7C685.8,518.6 689.1,521.6 690.9,524.1C692.7,526.6 696.0,532.4 697.6,534.2C699.2,536.0 701.4,537.3 702.7,537.6C704.0,537.9 706.6,536.4 707.7,536.7C708.8,537.0 709.8,538.5 711.1,540.1C712.4,541.7 716.2,547.1 717.8,548.5C719.4,549.9 721.6,550.5 722.9,550.7C724.2,550.9 726.3,550.9 727.9,550.2C729.5,549.5 732.7,546.8 734.7,545.1C736.7,543.4 741.3,539.9 743.1,537.6C744.9,535.3 746.8,530.4 748.1,527.5C749.4,524.6 752.1,518.1 753.2,515.7C754.3,513.3 755.5,510.0 756.6,509.8C757.7,509.6 760.0,512.2 761.6,514.0C763.2,515.8 766.6,521.2 768.4,523.2C770.2,525.2 773.8,528.4 775.1,529.1C776.4,529.8 777.2,529.5 778.5,528.3C779.8,527.1 783.6,520.8 785.2,519.9C786.8,519.0 788.9,521.4 790.2,521.6C791.5,521.8 794.0,522.1 795.3,521.6C796.6,521.1 798.7,519.9 800.0,518.2C801.3,516.5 803.8,510.9 805.0,508.9C806.2,506.9 808.2,503.9 809.3,503.5C810.4,503.1 812.0,504.4 813.5,505.6C815.0,506.8 818.6,511.6 820.2,512.3C821.8,513.0 824.0,511.2 825.3,510.6C826.6,510.0 829.2,508.0 830.3,508.1C831.4,508.2 832.6,509.4 833.7,511.5C834.8,513.6 837.4,521.1 838.7,524.1C840.0,527.1 842.5,531.2 843.8,534.2C845.1,537.2 847.5,545.0 848.8,546.8C850.1,548.6 852.3,549.2 853.9,547.7C855.5,546.2 858.8,538.7 860.6,535.9C862.4,533.1 865.5,529.2 867.3,526.6C869.1,524.0 872.8,518.5 874.1,516.5C875.4,514.5 876.3,512.5 877.4,511.5C878.5,510.5 881.2,509.8 882.5,508.9C883.8,508.0 886.2,506.2 887.5,504.7C888.8,503.2 891.3,498.9 892.6,498.0C893.9,497.1 896.5,496.9 897.6,498.0C898.7,499.1 899.9,502.7 901.0,506.4C902.1,510.1 905.0,521.9 906.1,525.8C907.2,529.7 908.1,534.9 909.4,535.9C910.7,536.9 914.4,533.4 916.2,533.3C918.0,533.2 921.1,535.3 922.9,535.0C924.7,534.7 928.0,532.1 929.6,530.8C931.2,529.5 933.4,526.0 934.7,524.9C936.0,523.8 938.4,523.1 939.7,522.4C941.0,521.7 943.7,521.0 944.8,519.9C945.9,518.8 947.0,515.5 948.1,514.0C949.2,512.5 951.6,510.4 953.2,508.9C954.8,507.4 958.3,503.4 959.9,503.0C961.5,502.6 963.7,504.7 965.0,505.6C966.3,506.5 968.7,508.7 970.0,509.8C971.3,510.9 973.8,512.9 975.1,513.6C976.4,514.3 978.8,514.5 980.1,514.8C981.4,515.1 983.6,514.0 985.2,515.7C986.8,517.4 990.2,524.8 991.9,527.5C993.6,530.2 996.7,534.9 997.8,535.9C998.9,536.9 999.0,534.9 1000.0,535.0C1001.0,535.1 1003.9,537.8 1005.3,536.9C1006.7,536.0 1009.2,530.8 1010.5,528.6C1011.8,526.4 1013.5,522.1 1015.0,520.3C1016.5,518.5 1020.1,517.4 1021.8,515.1C1023.5,512.8 1026.1,505.4 1027.8,503.0C1029.5,500.6 1032.7,498.0 1034.6,497.0C1036.5,496.0 1039.7,495.8 1042.1,495.5C1044.5,495.2 1050.2,494.7 1052.6,494.8C1055.0,494.9 1058.4,495.9 1060.2,496.3C1062.0,496.7 1064.6,497.8 1066.2,497.8C1067.8,497.8 1070.8,496.2 1072.2,496.6C1073.6,497.0 1075.7,499.6 1076.7,500.8C1077.7,502.0 1079.0,504.7 1079.4,505.3" stroke="#a64bcf" stroke-width="2.2" fill="none" stroke-linejoin="round"/>
<g shape-rendering="crispEdges"><path d="M0,481.5H1188M0,571.5H1188M1124.5,0V599" stroke="#b4b4b4" stroke-width="1"/></g>
</svg>
<div style="position:absolute;left:1134px;top:54.2px;font:normal 12px 'Liberation Sans', Arial, sans-serif;color:#aaaaaa;white-space:nowrap;line-height:12px;letter-spacing:-0.55px;">14800</div>
<div style="position:absolute;left:1134px;top:103.7px;font:normal 12px 'Liberation Sans', Arial, sans-serif;color:#aaaaaa;white-space:nowrap;line-height:12px;letter-spacing:-0.55px;">14700</div>
<div style="position:absolute;left:1134px;top:153.1px;font:normal 12px 'Liberation Sans', Arial, sans-serif;color:#aaaaaa;white-space:nowrap;line-height:12px;letter-spacing:-0.55px;">14600</div>
<div style="position:absolute;left:1134px;top:202.6px;font:normal 12px 'Liberation Sans', Arial, sans-serif;color:#aaaaaa;white-space:nowrap;line-height:12px;letter-spacing:-0.55px;">14500</div>
<div style="position:absolute;left:1134px;top:252.0px;font:normal 12px 'Liberation Sans', Arial, sans-serif;color:#aaaaaa;white-space:nowrap;line-height:12px;letter-spacing:-0.55px;">14400</div>
<div style="position:absolute;left:1134px;top:301.4px;font:normal 12px 'Liberation Sans', Arial, sans-serif;color:#aaaaaa;white-space:nowrap;line-height:12px;letter-spacing:-0.55px;">14300</div>
<div style="position:absolute;left:1134px;top:350.9px;font:normal 12px 'Liberation Sans', Arial, sans-serif;color:#aaaaaa;white-space:nowrap;line-height:12px;letter-spacing:-0.55px;">14200</div>
<div style="position:absolute;left:1134px;top:400.3px;font:normal 12px 'Liberation Sans', Arial, sans-serif;color:#aaaaaa;white-space:nowrap;line-height:12px;letter-spacing:-0.55px;">14100</div>
<div style="position:absolute;left:1134px;top:449.8px;font:normal 12px 'Liberation Sans', Arial, sans-serif;color:#aaaaaa;white-space:nowrap;line-height:12px;letter-spacing:-0.55px;">14000</div>
<div style="position:absolute;left:7px;top:11px;font:normal 13px 'Liberation Sans', Arial, sans-serif;color:#a3a3a3;white-space:nowrap;line-height:13px;letter-spacing:-0.15px;">FOREX IDR=</div>
<div style="position:absolute;left:93.5px;top:11px;font:normal 13px 'Liberation Sans', Arial, sans-serif;color:#a3a3a3;white-space:nowrap;line-height:13px;letter-spacing:0px;">O</div>
<div style="position:absolute;left:105px;top:11px;font:normal 13px 'Liberation Sans', Arial, sans-serif;color:#131313;white-space:nowrap;line-height:13px;letter-spacing:-0.35px;">14630</div>
<div style="position:absolute;left:147px;top:11px;font:normal 13px 'Liberation Sans', Arial, sans-serif;color:#a3a3a3;white-space:nowrap;line-height:13px;letter-spacing:0px;">H</div>
<div style="position:absolute;left:157px;top:11px;font:normal 13px 'Liberation Sans', Arial, sans-serif;color:#131313;white-space:nowrap;line-height:13px;letter-spacing:-0.35px;">14675</div>
<div style="position:absolute;left:199px;top:11px;font:normal 13px 'Liberation Sans', Arial, sans-serif;color:#a3a3a3;white-space:nowrap;line-height:13px;letter-spacing:0px;">L</div>
<div style="position:absolute;left:207.5px;top:11px;font:normal 13px 'Liberation Sans', Arial, sans-serif;color:#131313;white-space:nowrap;line-height:13px;letter-spacing:-0.35px;">14630</div>
<div style="position:absolute;left:249.5px;top:11px;font:normal 13px 'Liberation Sans', Arial, sans-serif;color:#a3a3a3;white-space:nowrap;line-height:13px;letter-spacing:0px;">C</div>
<div style="position:absolute;left:260px;top:11px;font:normal 13px 'Liberation Sans', Arial, sans-serif;color:#131313;white-space:nowrap;line-height:13px;letter-spacing:-0.35px;">14670</div>
<div style="position:absolute;left:303px;top:11px;font:normal 13px 'Liberation Sans', Arial, sans-serif;color:#131313;white-space:nowrap;line-height:13px;letter-spacing:-0.2px;">+20 (+0.14%)</div>
<div style="position:absolute;left:425.5px;top:11px;font:normal 13px 'Liberation Sans', Arial, sans-serif;color:#a3a3a3;white-space:nowrap;line-height:13px;letter-spacing:0.08px;">MA 50 close 0 SMA 9</div>
<div style="position:absolute;left:559.2px;top:11px;font:normal 13px 'Liberation Sans', Arial, sans-serif;color:#3f6fa6;white-space:nowrap;line-height:13px;letter-spacing:-0.35px;">14434</div>
<div style="position:absolute;left:605.4px;top:11px;font:normal 13px 'Liberation Sans', Arial, sans-serif;color:#a3a3a3;white-space:nowrap;line-height:13px;letter-spacing:0.1px;">MA 100 close 0 SMA 9</div>
<div style="position:absolute;left:746.2px;top:11px;font:normal 13px 'Liberation Sans', Arial, sans-serif;color:#f6dc3a;white-space:nowrap;line-height:13px;letter-spacing:-0.35px;">14390</div>
<div style="position:absolute;left:792.5px;top:11px;font:normal 13px 'Liberation Sans', Arial, sans-serif;color:#a3a3a3;white-space:nowrap;line-height:13px;letter-spacing:0.1px;">MA 200 close 0 SMA 9</div>
<div style="position:absolute;left:933.3px;top:11px;font:normal 13px 'Liberation Sans', Arial, sans-serif;color:#4a3bd6;white-space:nowrap;line-height:13px;letter-spacing:-0.35px;">14329</div>
<div style="position:absolute;left:2px;top:487px;width:306px;height:23px;background:rgba(255,255,255,0.42)"></div>
<div style="position:absolute;left:7px;top:490.5px;font:normal 13px 'Liberation Sans', Arial, sans-serif;color:#a3a3a3;white-space:nowrap;line-height:13px;letter-spacing:0.03px;">Stochastic Slow 14 3 3 Exponential</div>
<div style="position:absolute;left:218.4px;top:490.5px;font:normal 13px 'Liberation Sans', Arial, sans-serif;color:#ee9a4e;white-space:nowrap;line-height:13px;letter-spacing:-0.2px;">76.957</div>
<div style="position:absolute;left:264.3px;top:490.5px;font:normal 13px 'Liberation Sans', Arial, sans-serif;color:#9427d6;white-space:nowrap;line-height:13px;letter-spacing:-0.2px;">84.716</div>
<div style="position:absolute;left:-12px;top:579px;font:normal 12px 'Liberation Sans', Arial, sans-serif;color:#a7a7a7;white-space:nowrap;line-height:12px;letter-spacing:-0.3px;">Mar</div>
<div style="position:absolute;left:139px;top:579px;font:normal 12px 'Liberation Sans', Arial, sans-serif;color:#a7a7a7;white-space:nowrap;line-height:12px;letter-spacing:-0.3px;">May</div>
<div style="position:absolute;left:287.5px;top:579px;font:normal 12px 'Liberation Sans', Arial, sans-serif;color:#a7a7a7;white-space:nowrap;line-height:12px;letter-spacing:-0.3px;">Jul</div>
<div style="position:absolute;left:434px;top:579px;font:normal 12px 'Liberation Sans', Arial, sans-serif;color:#a7a7a7;white-space:nowrap;line-height:12px;letter-spacing:-0.3px;">Sep</div>
<div style="position:absolute;left:579.2px;top:579px;font:normal 12px 'Liberation Sans', Arial, sans-serif;color:#a7a7a7;white-space:nowrap;line-height:12px;letter-spacing:-0.3px;">Nov</div>
<div style="position:absolute;left:727px;top:579px;font:bold 12px 'Liberation Sans', Arial, sans-serif;color:#a7a7a7;white-space:nowrap;line-height:12px;letter-spacing:-0.3px;">2022</div>
<div style="position:absolute;left:869.2px;top:579px;font:normal 12px 'Liberation Sans', Arial, sans-serif;color:#a7a7a7;white-space:nowrap;line-height:12px;letter-spacing:-0.3px;">Mar</div>
<div style="position:absolute;left:1017px;top:579px;font:normal 12px 'Liberation Sans', Arial, sans-serif;color:#a7a7a7;white-space:nowrap;line-height:12px;letter-spacing:-0.3px;">May</div>
<div style="position:absolute;left:1045.5px;top:81px;font:normal 12px 'Liberation Sans', Arial, sans-serif;color:#1f8a78;white-space:nowrap;line-height:12px;letter-spacing:-0.15px;-webkit-text-stroke:0.35px #1f8a78">0.618(14732)</div>
<div style="position:absolute;left:1045.5px;top:335px;font:normal 12px 'Liberation Sans', Arial, sans-serif;color:#4d8fd2;white-space:nowrap;line-height:12px;letter-spacing:-0.15px;-webkit-text-stroke:0.35px #4d8fd2">0.786(14219)</div>

<div style="position:absolute;left:1124px;top:116px;width:64px;height:17px;background:#fff"></div>
<div style="position:absolute;left:1134px;top:119px;font:12px 'Liberation Sans',Arial,sans-serif;color:#000;line-height:12px;letter-spacing:-0.5px;-webkit-text-stroke:0.3px #000">14670</div>
<div class="lab" style="top:233px;background:#2f6db6;color:#fff">14434</div>
<div class="lab" style="top:255px;background:#fcd92a;color:#111">14390</div>
<div class="lab" style="top:285px;background:#3d2ee8;color:#fff">14329</div>
<div class="lab" style="top:486px;height:17px;width:52px;background:#9a10ee;color:#fff;font-size:12px;line-height:18px;letter-spacing:-0.4px">84.716</div>
<div class="lab" style="top:503px;height:17px;width:52px;background:#fe8122;color:#111;font-size:12px;line-height:18px;letter-spacing:-0.4px;-webkit-text-stroke:0.25px #111">76.957</div>
<div style="position:absolute;left:392px;top:7px;width:27px;height:19px;border:1px solid #d4d4d4;border-radius:3px;background:#fff"></div>
<svg style="position:absolute;left:400px;top:11px" width="14" height="14"><path d="M8.6,2.2 L4.6,7 L8.6,11.8" stroke="#1a1a1a" stroke-width="1.35" fill="none"/></svg>
<div style="position:absolute;left:1137px;top:4px;width:35px;height:19px;border:1px solid #d0d0d0;border-radius:4px;background:#fff"></div>
<div style="position:absolute;left:1142px;top:7px;font:13px 'Liberation Sans',Arial,sans-serif;color:#b0b0b0;line-height:13px;letter-spacing:-0.4px">IDR</div>
<svg style="position:absolute;left:1164px;top:10px" width="10" height="8"><path d="M1.5,2.5 L4,5 L6.5,2.5" stroke="#b0b0b0" stroke-width="1.2" fill="none"/></svg>
<svg style="position:absolute;left:1148px;top:577px" width="17" height="17"><g stroke="#111" stroke-width="1.3" fill="none"><circle cx="8.5" cy="8.5" r="5"/><path d="M8.5,1v2.5M8.5,14v2.5M1,8.5h2.5M14,8.5h2.5M3.2,3.2l1.4,1.4M12.4,12.4l1.4,1.4M3.2,13.8l1.4,-1.4M12.4,4.6l1.4,-1.4"/></g></svg>
</body></html>
